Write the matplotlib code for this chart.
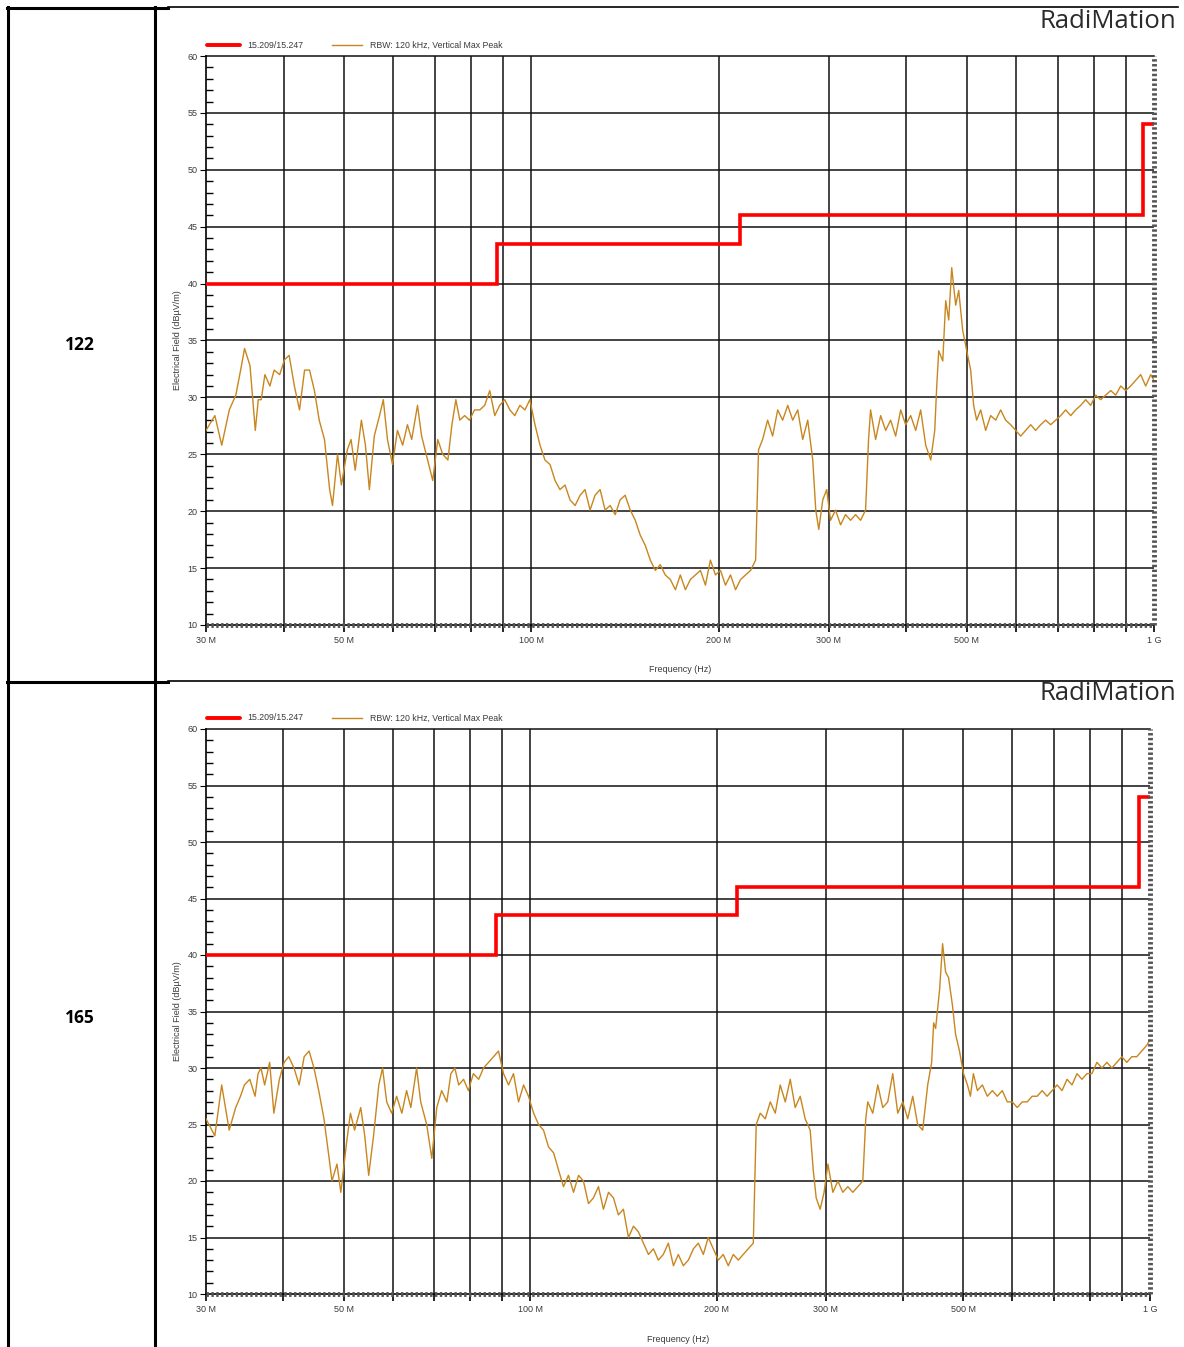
import numpy as np
import matplotlib
matplotlib.use("Agg")
import matplotlib.pyplot as plt
from matplotlib.lines import Line2D
from matplotlib.ticker import FixedLocator, FixedFormatter

# sweep frequencies (MHz)
freq_mhz = [
    30.0, 31.0, 31.8, 32.7, 33.5, 34.1, 34.6, 35.3, 36.0, 36.4, 36.8, 37.3, 38.0, 38.6, 39.4,
    40.1, 40.8, 41.6, 42.4, 43.2, 44.0, 44.8, 45.6, 46.5, 47.4, 47.9, 48.8, 49.5, 50.6, 51.3,
    52.1, 53.3, 54.1, 54.9, 55.9, 57.0, 57.8, 58.7, 59.8, 60.9, 62.1, 63.2, 64.2, 65.6, 66.6,
    68.1, 69.4, 70.7, 72.0, 73.4, 74.5, 75.6, 76.7, 78.1, 79.5, 81.0, 82.6, 84.1, 85.7, 87.3,
    88.9, 90.6, 92.3, 94.0, 95.8, 97.6, 99.4, 101.3, 103.2, 105.1, 107.1, 109.1, 111.1, 113.2,
    115.3, 117.5, 119.7, 121.9, 124.2, 126.5, 128.9, 131.3, 133.8, 136.3, 138.8, 141.4, 144.1,
    146.8, 149.5, 152.3, 155.2, 158.1, 161.0, 164.0, 167.1, 170.3, 173.4, 176.7, 180.0, 183.4,
    186.8, 190.3, 193.8, 197.5, 201.2, 204.9, 208.8, 212.7, 216.7, 220.7, 224.9, 229.1, 231.6,
    235.1, 239.5, 244.0, 248.6, 253.2, 258.0, 262.8, 267.7, 272.7, 277.8, 283.0, 286.2, 289.4,
    293.7, 298.0, 302.3, 307.9, 313.7, 319.5, 325.5, 331.6, 337.8, 344.1, 347.9, 350.5, 357.1,
    363.8, 370.6, 377.5, 384.6, 391.8, 399.1, 406.6, 414.2, 421.9, 429.8, 437.9, 444.4, 447.7,
    451.0, 457.8, 462.8, 468.0, 473.2, 480.2, 485.6, 492.8, 500.2, 507.6, 513.2, 518.9, 526.7,
    536.5, 546.5, 556.8, 567.1, 577.7, 588.5, 599.5, 610.7, 622.1, 633.7, 645.5, 657.6, 669.9,
    682.4, 695.1, 708.1, 721.3, 734.8, 748.5, 762.5, 776.7, 791.2, 806.0, 821.0, 836.4, 852.0,
    867.9, 884.1, 900.6, 917.4, 934.6, 952.0, 969.8, 987.9, 1000.0,
]

# sample 122, vertical max peak (dBuV/m)
level_122 = [
    27.1, 28.4, 25.8, 28.9, 30.2, 32.4, 34.3, 32.8, 27.1, 29.8, 29.8, 32.0, 31.0, 32.4, 32.0,
    33.3, 33.7, 31.0, 28.9, 32.4, 32.4, 30.6, 28.0, 26.3, 21.9, 20.5, 25.0, 22.3, 25.4, 26.3,
    23.6, 28.0, 25.8, 21.9, 26.6, 28.4, 29.8, 26.3, 24.1, 27.1, 25.8, 27.6, 26.3, 29.3, 26.6,
    24.5, 22.7, 26.3, 25.0, 24.5, 27.6, 29.8, 28.0, 28.4, 28.0, 28.9, 28.9, 29.3, 30.6, 28.4,
    29.3, 29.8, 28.9, 28.4, 29.3, 28.9, 29.8, 27.6, 25.8, 24.5, 24.1, 22.7, 21.9, 22.3,
    21.0, 20.5, 21.4, 21.9, 20.1, 21.4, 21.9, 20.1, 20.5, 19.7, 21.0, 21.4, 20.1,
    19.2, 17.9, 17.0, 15.7, 14.8, 15.3, 14.4, 14.0, 13.1, 14.4, 13.1, 14.0, 14.4,
    14.8, 13.5, 15.7, 14.4, 14.8, 13.5, 14.4, 13.1, 14.0, 14.4, 14.8, 15.7, 25.4,
    26.3, 28.0, 26.6, 28.9, 28.0, 29.3, 28.0, 28.9, 26.3, 28.0, 24.5, 20.1, 18.4,
    21.0, 21.9, 19.2, 20.1, 18.8, 19.7, 19.2, 19.7, 19.2, 20.1, 26.3, 28.9, 26.3,
    28.4, 27.1, 28.0, 26.6, 28.9, 27.6, 28.4, 27.1, 28.9, 25.8, 24.5, 27.1, 31.0,
    34.1, 33.2, 38.5, 36.8, 41.4, 38.1, 39.4, 35.9, 34.1, 32.4, 29.3, 28.0, 28.9,
    27.1, 28.4, 28.0, 28.9, 28.0, 27.6, 27.1, 26.6, 27.1, 27.6, 27.1, 27.6, 28.0,
    27.6, 28.0, 28.4, 28.9, 28.4, 28.9, 29.3, 29.8, 29.3, 30.2, 29.8, 30.2, 30.6,
    30.2, 31.0, 30.6, 31.0, 31.5, 32.0, 31.0, 32.0, 31.5,
]

# sample 165, vertical max peak (dBuV/m)
level_165 = [
    25.5, 24.0, 28.5, 24.5, 26.5, 27.5, 28.5, 29.0, 27.5, 29.5, 30.0, 28.5, 30.5, 26.0, 29.0,
    30.5, 31.0, 30.0, 28.5, 31.0, 31.5, 30.0, 28.0, 25.5, 22.0, 20.0, 21.5, 19.0, 23.5, 26.0,
    24.5, 26.5, 24.0, 20.5, 24.0, 28.5, 30.0, 27.0, 26.0, 27.5, 26.0, 28.0, 26.5, 30.0, 27.0,
    25.0, 22.0, 26.5, 28.0, 27.0, 29.5, 30.0, 28.5, 29.0, 28.0, 29.5, 29.0, 30.0, 30.5, 31.0,
    31.5, 29.5, 28.5, 29.5, 27.0, 28.5, 27.5, 26.0, 25.0, 24.5, 23.0, 22.5, 21.0, 19.5,
    20.5, 19.0, 20.5, 20.0, 18.0, 18.5, 19.5, 17.5, 19.0, 18.5, 17.0, 17.5, 15.0,
    16.0, 15.5, 14.5, 13.5, 14.0, 13.0, 13.5, 14.5, 12.5, 13.5, 12.5, 13.0, 14.0,
    14.5, 13.5, 15.0, 14.0, 13.0, 13.5, 12.5, 13.5, 13.0, 13.5, 14.0, 14.5, 25.0,
    26.0, 25.5, 27.0, 26.0, 28.5, 27.0, 29.0, 26.5, 27.5, 25.5, 24.5, 21.0, 18.5,
    17.5, 19.0, 21.5, 19.0, 20.0, 19.0, 19.5, 19.0, 19.5, 20.0, 25.5, 27.0, 26.0,
    28.5, 26.5, 27.0, 29.5, 26.0, 27.0, 25.5, 27.5, 25.0, 24.5, 28.5, 30.5, 34.0,
    33.5, 37.0, 41.0, 38.5, 38.0, 35.5, 33.0, 31.5, 29.5, 28.5, 27.5, 29.5, 28.0,
    28.5, 27.5, 28.0, 27.5, 28.0, 27.0, 27.0, 26.5, 27.0, 27.0, 27.5, 27.5, 28.0,
    27.5, 28.0, 28.5, 28.0, 29.0, 28.5, 29.5, 29.0, 29.5, 29.5, 30.5, 30.0, 30.5,
    30.0, 30.5, 31.0, 30.5, 31.0, 31.0, 31.5, 32.0, 32.5,
]

# 15.209/15.247 limit line
limit_freq = [30, 88, 216, 960, 1000]
limit_level = [40, 43.5, 46, 54, 54]

tick_freqs = [30, 40, 50, 60, 70, 80, 90, 100, 200, 300, 400, 500, 600, 700, 800, 900, 1000]
tick_text = ["30 M", "", "50 M", "", "", "", "", "100 M", "200 M", "300 M", "", "500 M",
             "", "", "", "", "1 G"]
grid_freqs = tick_freqs[1:-1]
sample_ids = ["122", "165"]

W, H = 1184, 1347
RED = "#ff0000"
ORANGE = "#c8861e"
TXT = "#3a3a3a"
plt.rcParams["font.family"] = ["Liberation Sans", "DejaVu Sans"]

fig = plt.figure(figsize=(W / 100, H / 100), dpi=100)


def fx(x):
    return x / W


def fy(y):
    return 1 - y / H


def hline(x0, x1, y, lw):
    fig.add_artist(Line2D([fx(x0), fx(x1)], [fy(y), fy(y)], color="k", lw=lw))


def vline(x, y0, y1, lw):
    fig.add_artist(Line2D([fx(x), fx(x)], [fy(y0), fy(y1)], color="k", lw=lw))


# table borders
vline(8, 7, H, 2.2)
vline(155, 7, H, 2.2)
hline(7, 168, 8, 2.2)
hline(168, 1178, 7, 1.2)
hline(7, 168, 682, 2.2)
hline(168, 1172, 681, 1.2)


def draw_panel(levels, left, top, right, bottom, row_top, row_bottom, sample):
    ax = fig.add_axes([fx(left), fy(bottom), fx(right - left), (bottom - top) / H])
    ax.set_xscale("log")
    ax.set_xlim(30, 1000)
    ax.set_ylim(10, 60)

    for f in grid_freqs:
        ax.axvline(f, color="#111111", lw=1.1, zorder=1)
    for lv in range(15, 60, 5):
        ax.axhline(lv, color="#111111", lw=1.1, zorder=1)

    ax.plot(freq_mhz, levels, color=ORANGE, lw=1.0, zorder=3)
    ax.step(limit_freq, limit_level, where="post", color=RED, lw=2.6, zorder=4,
            solid_joinstyle="miter")

    ax.xaxis.set_major_locator(FixedLocator(tick_freqs))
    ax.xaxis.set_major_formatter(FixedFormatter(tick_text))
    ax.xaxis.set_minor_locator(FixedLocator([]))
    ax.set_yticks(range(10, 61, 5))
    ax.set_yticks(range(10, 61, 1), minor=True)
    ax.tick_params(axis="x", which="major", direction="out", length=5, width=1.2,
                   labelsize=6.5, labelcolor=TXT, pad=3)
    ax.tick_params(axis="y", which="major", direction="out", length=4, width=0.8,
                   labelsize=6.5, labelcolor=TXT, pad=2)
    ax.tick_params(axis="y", which="minor", direction="in", length=5, width=1.0)

    for side in ["top", "right"]:
        ax.spines[side].set_visible(False)
    ax.spines["left"].set_linewidth(1.2)
    ax.spines["bottom"].set_linewidth(1.2)
    # hatched tick band along bottom and right edges
    ax.plot([0, 1], [0, 0], transform=ax.transAxes, color="#555555", lw=3.5,
            ls=(0, (0.5, 0.5)), clip_on=False, zorder=5)
    ax.plot([1, 1], [0, 1], transform=ax.transAxes, color="#555555", lw=3.5,
            ls=(0, (0.5, 0.5)), clip_on=False, zorder=5)
    ax.plot([0, 1], [1, 1], transform=ax.transAxes, color="#111111", lw=1.1,
            clip_on=False, zorder=2)

    ax.set_ylabel("Electrical Field (dBµV/m)", fontsize=6.5, color=TXT, labelpad=4)
    fig.text(fx((left + right) / 2), fy(bottom + 45), "Frequency (Hz)", fontsize=6.5,
             color=TXT, ha="center", va="center")

    # legend
    ly = top - 11
    fig.add_artist(Line2D([fx(left + 1), fx(left + 34)], [fy(ly), fy(ly)], color=RED,
                          lw=2.8, solid_capstyle="round"))
    fig.text(fx(left + 41), fy(ly), "15.209/15.247", fontsize=6.3, color=TXT,
             va="center")
    fig.add_artist(Line2D([fx(left + 126), fx(left + 156)], [fy(ly), fy(ly)],
                          color=ORANGE, lw=1.0))
    fig.text(fx(left + 164), fy(ly), "RBW: 120 kHz, Vertical Max Peak", fontsize=6.3,
             color=TXT, va="center")

    fig.text(fx(1176), fy(top - 35), "RadiMation", fontsize=18.5, color="#2b2b2b",
             ha="right", va="center", fontweight="medium",
             family=["Open Sans", "DejaVu Sans"])
    fig.text(fx(80), fy((row_top + row_bottom) / 2), sample, fontsize=12.5,
             fontweight="bold", ha="center", va="center", color="k",
             family=["Open Sans", "DejaVu Sans"])
    return ax


draw_panel(level_122, 206, 56, 1154, 625, 8, 682, sample_ids[0])
draw_panel(level_165, 206, 729, 1150, 1294, 682, 1354, sample_ids[1])

fig.savefig("out.png", dpi=100)
